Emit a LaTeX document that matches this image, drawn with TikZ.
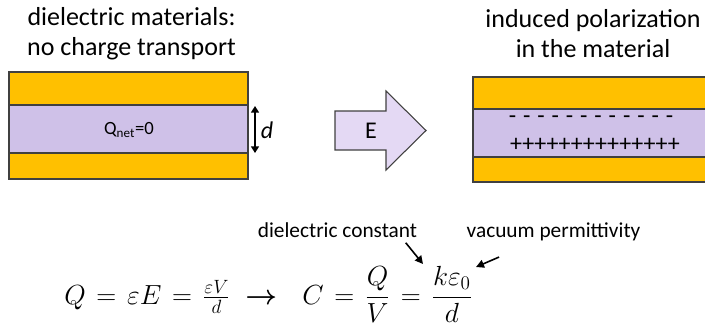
\documentclass[tikz,border=0pt]{standalone}
\usepackage{fontspec}
\setmainfont{Carlito}
\usepackage{amsmath}
\usetikzlibrary{arrows.meta, calc}
\definecolor{PlateGold}{HTML}{FFC000}
\definecolor{FilmLilac}{HTML}{CFC1E8}
\definecolor{ArrowLilac}{HTML}{E4D9F4}
\definecolor{EdgeGray}{HTML}{404040}
\newcommand{\widerel}{\thickmuskip=7mu\relax}

\begin{document}
\begin{tikzpicture}[x=0.75pt, y=-0.75pt,
  plate/.style={draw=EdgeGray, line width=0.9pt, fill=PlateGold},
  film/.style={draw=EdgeGray, line width=0.9pt, fill=FilmLilac},
  headline/.style={font=\fontsize{19.5}{22.5}\selectfont, align=center},
  small/.style={font=\fontsize{16}{19}\selectfont, inner sep=1pt},
  eq/.style={font=\fontsize{22}{26}\selectfont, inner sep=0pt},
  note/.style={-{Triangle[length=6pt,width=6pt]}, line width=1.2pt}
]
\useasboundingbox (0,0) rectangle (705,329);
% left capacitor
\draw[plate] (9,72) rectangle (248,105);
\draw[film]  (9,105) rectangle (248,153);
\draw[plate] (9,153) rectangle (248,179);
\node[headline] (leftTitle) at (131.5,34) {dielectric materials:\\no charge transport};
\node[font=\fontsize{14}{17}\selectfont, inner sep=1pt] (qNet) at (129,130) {Q\textsubscript{net}=0};
\coordinate (dTop) at (255,106);
\coordinate (dBot) at (255,153);
\draw[{Triangle[length=5pt,width=6pt]}-{Triangle[length=5pt,width=6pt]}, line width=1.2pt] (dTop) -- (dBot);
\node[font=\fontsize{18}{22}\selectfont\itshape, inner sep=0pt] (dLbl) at (267,130) {d};
% field arrow
\draw[draw=EdgeGray, line width=0.8pt, fill=ArrowLilac]
  (335,111) -- (386,111) -- (386,91) -- (426,130.5) -- (386,170) -- (386,150) -- (335,150) -- cycle;
\node[font=\fontsize{18}{22}\selectfont, inner sep=0pt] (eField) at (371,130.5) {E};
% right capacitor
\draw[plate] (473,77) rectangle (712,109);
\draw[film]  (473,109) rectangle (712,157);
\draw[plate] (473,157) rectangle (712,182);
\node[headline] (rightTitle) at (593,34) {induced polarization\\in the material};
\node[font=\fontsize{18}{22}\selectfont, inner sep=0pt] (minusRow) at (591,120) {\spaceskip=5.2pt - - - - - - - - - - - -};
\node[font=\fontsize{18}{22}\selectfont, inner sep=0pt] (plusRow) at (595,145) {++++++++++++++};
% equations
\node[eq, anchor=base west] (eqQ) at (64,304) {$\widerel Q = \varepsilon E = \tfrac{\varepsilon V}{d}\mkern3mu\boldsymbol{\rightarrow}$};
\node[eq, anchor=base west] (eqC) at (302,304) {$\widerel C = \dfrac{Q}{V} = \dfrac{k\varepsilon_0}{d}$};
\node[small, anchor=base] (dc) at (337.5,237) {dielectric constant};
\node[small, anchor=base] (vp) at (553.5,237) {vacuum permittivity};
\coordinate (kTip) at (423,264);
\coordinate (epsTip) at (476,267);
\draw[note] ($(dc.south east)+(-13,4)$) -- (kTip);
\draw[note] ($(vp.south west)+(34,15)$) -- (epsTip);
\end{tikzpicture}
\end{document}
